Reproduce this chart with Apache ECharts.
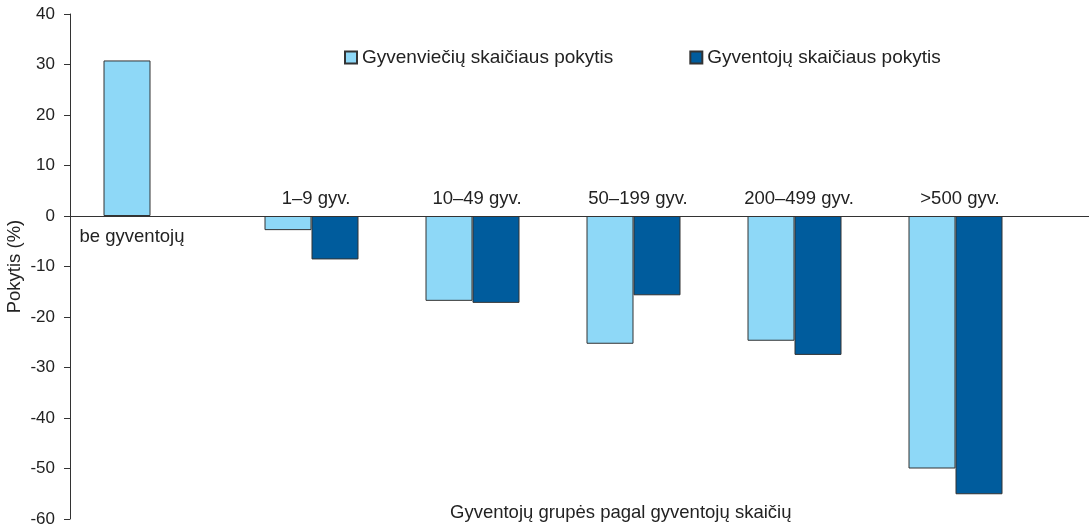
<!DOCTYPE html>
<html>
<head>
<meta charset="utf-8">
<script src="https://cdn.jsdelivr.net/npm/echarts@6/dist/echarts.min.js"></script>
<style>
  html, body { margin: 0; padding: 0; background: #fff; }
  #main { width: 1089px; height: 525px; }
</style>
</head>
<body>
<div id="main"></div>
<script>
// grupės ir reikšmės
const categories = ['be gyventojų', '1–9 gyv.', '10–49 gyv.', '50–199 gyv.', '200–499 gyv.', '>500 gyv.'];
const settlements = [30.8, -2.8, -16.8, -25.3, -24.7, -50.0];   // Gyvenviečių skaičiaus pokytis
const residents = [null, -8.6, -17.2, -15.7, -27.5, -55.1];     // Gyventojų skaičiaus pokytis
const seriesNames = ['Gyvenviečių skaičiaus pokytis', 'Gyventojų skaičiaus pokytis'];

const font = 'Liberation Sans';
const textColor = '#222';
const chart = echarts.init(document.getElementById('main'));

// grupės pavadinimas rašomas prie nulinės linijos per šviesaus stulpelio etiketę
const settlementData = settlements.map((v, i) => ({
  value: v,
  label: v >= 0
    ? { position: 'insideBottom', distance: -30, offset: [5, 0] }
    : { position: 'top', distance: 8, offset: [28, 0] }
}));

const option = {
  textStyle: { fontFamily: font },
  animation: false,
  grid: { left: 70, right: 53, top: 14, bottom: 6, outerBoundsMode: 'none' },
  title: {
    text: 'Gyventojų grupės pagal gyventojų skaičių',
    left: 445, top: 498,
    textStyle: { fontFamily: font, fontSize: 18.5, fontWeight: 'normal', color: textColor }
  },
  legend: {
    top: 43, left: 339,
    itemWidth: 12, itemHeight: 12, itemGap: 76,
    icon: 'rect',
    textStyle: { fontFamily: font, fontSize: 19, color: textColor },
    data: seriesNames
  },
  xAxis: {
    type: 'category',
    data: categories,
    axisLine: { onZero: true, lineStyle: { color: '#333', width: 1 } },
    axisTick: { show: false },
    axisLabel: { show: false }
  },
  yAxis: {
    type: 'value',
    min: -60, max: 40, interval: 10,
    name: 'Pokytis (%)',
    nameLocation: 'middle',
    nameGap: 46,
    nameMoveOverlap: false,
    nameTextStyle: { fontFamily: font, fontSize: 18.5, color: textColor },
    axisLine: { show: true, lineStyle: { color: '#333' } },
    axisTick: { show: true, length: 6, lineStyle: { color: '#333' } },
    axisLabel: { fontSize: 17, color: textColor, margin: 15 },
    splitLine: { show: false }
  },
  series: [
    {
      name: seriesNames[0],
      type: 'bar',
      data: settlementData,
      barWidth: 47,
      barGap: '0%',
      itemStyle: { color: '#8ED8F7', borderColor: '#333', borderWidth: 1 },
      label: {
        show: true,
        fontFamily: font, fontSize: 18.5, color: textColor,
        formatter: p => categories[p.dataIndex]
      }
    },
    {
      name: seriesNames[1],
      type: 'bar',
      data: residents,
      barWidth: 47,
      barGap: '0%',
      itemStyle: { color: '#005C9D', borderColor: '#333', borderWidth: 1 }
    }
  ]
};
chart.setOption(option);

// nulinė linija tęsiasi iki dešiniojo krašto
const y0 = Math.round(chart.convertToPixel({ yAxisIndex: 0 }, 0)) + 0.5;
chart.setOption({
  graphic: [{
    type: 'line',
    shape: { x1: 1089 - 54, y1: y0, x2: 1089, y2: y0 },
    style: { stroke: '#333', lineWidth: 1 }
  }]
});
</script>
</body>
</html>
